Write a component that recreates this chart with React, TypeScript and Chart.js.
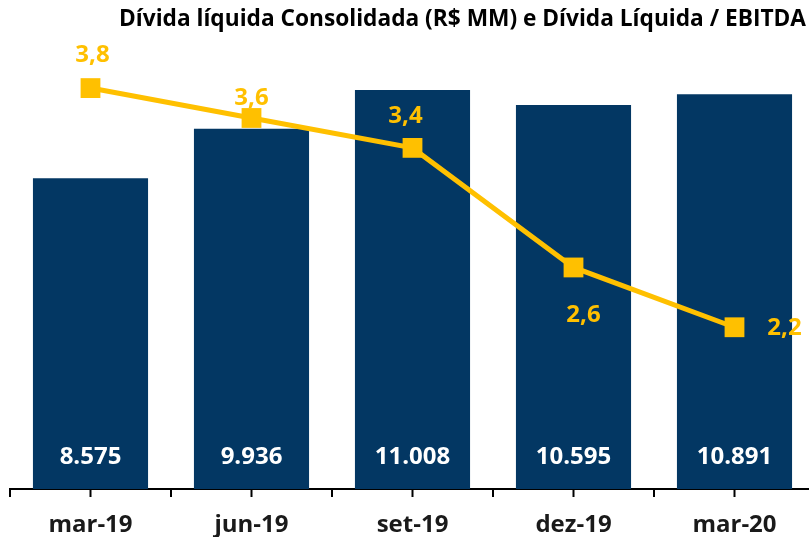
import React, { useEffect, useRef } from "react";
import { Chart, registerables } from "chart.js";

Chart.register(...registerables);

const TITLE = "Dívida líquida Consolidada (R$ MM) e Dívida Líquida / EBITDA";
const categories = ["mar-19", "jun-19", "set-19", "dez-19", "mar-20"];
const dividaLiquida = [8575, 9936, 11008, 10595, 10891];
const dividaEbitda = [3.8, 3.6, 3.4, 2.6, 2.2];
// label placement offsets for the ratio labels (dx, dy from the marker)
const ratioLabelOffsets: [number, number][] = [
  [2, -33],
  [0, -20],
  [-7, -32],
  [10, 48],
  [50, 1],
];

const NAVY = "#033763";
const YELLOW = "#FFC000";
const FONT = "'Open Sans', sans-serif";

const fmtThousands = (n: number) =>
  String(n).replace(/\B(?=(\d{3})+(?!\d))/g, ".");
const fmtDecimal = (n: number) => n.toFixed(1).replace(".", ",");

const labelsPlugin = {
  id: "customLabels",
  afterDatasetsDraw(chart: any) {
    const ctx = chart.ctx;
    const xScale = chart.scales.x;
    const area = chart.chartArea;
    ctx.save();
    // center tick marks
    ctx.strokeStyle = "#000";
    ctx.lineWidth = 2;
    for (let i = 0; i < categories.length; i++) {
      const x = xScale.getPixelForValue(i);
      ctx.beginPath();
      ctx.moveTo(x, area.bottom);
      ctx.lineTo(x, area.bottom + 8);
      ctx.stroke();
    }
    // bar labels
    const barMeta = chart.getDatasetMeta(0);
    ctx.font = `bold 24px ${FONT}`;
    ctx.textAlign = "center";
    ctx.textBaseline = "middle";
    ctx.fillStyle = "#FFFFFF";
    barMeta.data.forEach((el: any, i: number) => {
      ctx.fillText(fmtThousands(dividaLiquida[i]), el.x, el.base - 32);
    });
    // ratio labels
    const lineMeta = chart.getDatasetMeta(1);
    ctx.fillStyle = YELLOW;
    lineMeta.data.forEach((el: any, i: number) => {
      const [dx, dy] = ratioLabelOffsets[i];
      ctx.fillText(fmtDecimal(dividaEbitda[i]), el.x + dx, el.y + dy);
    });
    ctx.restore();
  },
};

export default function App() {
  const canvasRef = useRef<HTMLCanvasElement | null>(null);

  useEffect(() => {
    if (!canvasRef.current) return;
    const chart = new Chart(canvasRef.current, {
      type: "bar",
      data: {
        labels: categories,
        datasets: [
          {
            type: "bar",
            label: "Dívida líquida",
            data: dividaLiquida,
            backgroundColor: NAVY,
            categoryPercentage: 1,
            barPercentage: 0.715,
            yAxisID: "y",
            order: 1,
          },
          {
            type: "line",
            label: "Dívida Líquida / EBITDA",
            data: dividaEbitda,
            borderColor: YELLOW,
            backgroundColor: YELLOW,
            borderWidth: 5,
            pointStyle: "rect",
            pointRadius: 14,
            pointBorderWidth: 0,
            pointBackgroundColor: YELLOW,
            yAxisID: "y1",
            order: 0,
          } as any,
        ],
      },
      options: {
        animation: false,
        responsive: false,
        layout: { autoPadding: false, padding: { left: 10, right: 0, top: 54, bottom: -16 } },
        plugins: {
          legend: { display: false },
          title: { display: false },
          tooltip: { enabled: false },
        },
        scales: {
          x: {
            offset: true,
            grid: {
              offset: true,
              drawOnChartArea: false,
              drawTicks: true,
              tickLength: 8,
              color: "#000",
              lineWidth: 2,
            },
            border: { display: true, color: "#000", width: 2 },
            ticks: {
              color: "#1a1a1a",
              padding: 0,
              font: { family: FONT, size: 24, weight: "bold", lineHeight: 56 / 24 },
            },
          },
          y: { display: false, min: 0, max: 12000 },
          y1: { display: false, min: 1.118, max: 4.028 },
        },
      },
      plugins: [labelsPlugin],
    });
    return () => chart.destroy();
  }, []);

  return (
    <div
      style={{
        position: "fixed",
        left: 0,
        top: 0,
        width: 809,
        height: 537,
        overflow: "hidden",
        background: "#fff",
      }}
    >
      <canvas
        ref={canvasRef}
        width={815}
        height={537}
        style={{ position: "absolute", left: 0, top: 0, width: 815, height: 537 }}
      />
      <div
        style={{
          position: "absolute",
          right: 3,
          top: 4,
          whiteSpace: "nowrap",
          font: `bold 22.7px ${FONT}`,
          lineHeight: "28px",
          color: "#000",
        }}
      >
        {TITLE}
      </div>
    </div>
  );
}
